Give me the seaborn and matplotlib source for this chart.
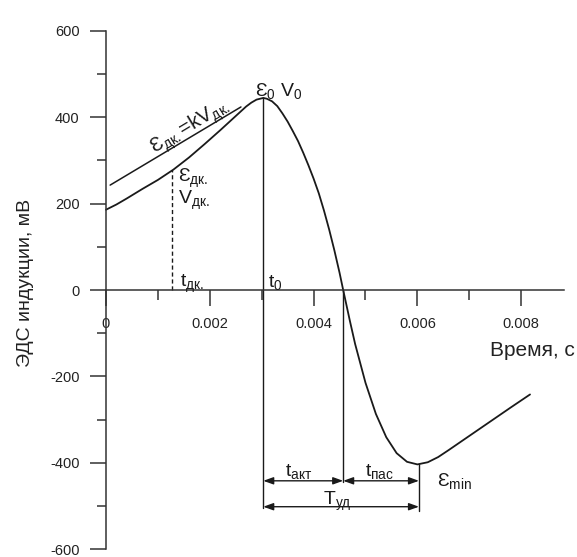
import matplotlib
matplotlib.use("Agg")
import matplotlib.pyplot as plt
import numpy as np
import pandas as pd
import seaborn as sns

# Induced EMF signal over one stroke
time_s = [0.0, 0.0002, 0.0004, 0.0007, 0.0010, 0.0013, 0.0016, 0.0019, 0.0022,
          0.0025, 0.0027, 0.0028, 0.0029, 0.0030, 0.00303, 0.0031, 0.0032, 0.0033,
          0.0034, 0.0035, 0.0036, 0.0037, 0.0038, 0.0039, 0.0040, 0.0041, 0.0042,
          0.0043, 0.0044, 0.0045, 0.00457, 0.0047, 0.0048, 0.0050, 0.0052, 0.0054,
          0.0056, 0.0058, 0.0060, 0.0062, 0.0064, 0.0066, 0.0070, 0.0074, 0.0078,
          0.00817]
emf_mv = [186, 198, 212, 234, 255, 279, 307, 338, 370,
          403, 425, 434, 441, 444, 445, 443, 437, 426,
          409, 390, 368, 345, 318, 289, 258, 224, 184,
          140, 92, 40, 0, -72, -125, -215, -287, -341,
          -378, -398, -404, -399, -387, -371, -338, -305, -272,
          -242]

# Straight line E = kV drawn over the rising part
tangent_t = [0.00008, 0.0026]
tangent_v = [243, 424]

# Characteristic points
t_dk, e_dk = 0.00128, 277
t_0, e_0 = 0.00303, 445
t_zero = 0.00457
t_min, e_min = 0.00603, -404

x_ticks = [0, 0.002, 0.004, 0.006, 0.008]
x_tick_labels = ["0", "0.002", "0.004", "0.006", "0.008"]
y_ticks = [-600, -400, -200, 0, 200, 400, 600]
y_tick_labels = ["-600", "-400", "-200", "0", "200", "400", "600"]

sns.set_theme(style="ticks")
plt.rcParams["font.family"] = ["Liberation Sans", "DejaVu Sans"]
plt.rcParams["mathtext.fontset"] = "custom"
plt.rcParams["mathtext.rm"] = "Liberation Sans"
plt.rcParams["mathtext.it"] = "Liberation Sans:italic"

fig = plt.figure(figsize=(5.77, 5.57), dpi=100)
fig.patch.set_facecolor("white")
ax = fig.add_axes([0, 0, 1, 1])
ax.set_facecolor("white")

df = pd.DataFrame({"t": time_s, "emf": emf_mv})
sns.lineplot(data=df, x="t", y="emf", ax=ax, color="#1a1a1a", lw=1.3, sort=False)
ax.plot(tangent_t, tangent_v, color="#1a1a1a", lw=1.1)

ax.set_xlim(-106 / 51900, 471 / 51900)
ax.set_ylim(-267 / 0.4317, 290 / 0.4317)

# axes crossing at the origin
for side in ("top", "right"):
    ax.spines[side].set_visible(False)
ax.spines["left"].set_position(("data", 0))
ax.spines["bottom"].set_position(("data", 0))
ax.spines["left"].set_bounds(-600, 600)
ax.spines["bottom"].set_bounds(0, 0.00883)
for side in ("left", "bottom"):
    ax.spines[side].set_linewidth(1.1)
    ax.spines[side].set_color("#333333")

ax.set_xticks(x_ticks)
ax.set_xticklabels(x_tick_labels)
ax.set_xticks([0.001, 0.003, 0.005, 0.007], minor=True)
ax.set_yticks(y_ticks)
ax.set_yticklabels(y_tick_labels)
ax.set_yticks([-500, -300, -100, 100, 300, 500], minor=True)
ax.tick_params(axis="x", which="major", direction="out", length=11.5, width=1.1,
               pad=8, labelsize=10.5, colors="#333333", labelcolor="#222222")
ax.tick_params(axis="x", which="minor", direction="out", length=7, width=1.1,
               colors="#333333")
ax.tick_params(axis="y", which="major", direction="out", length=11.5, width=1.1,
               pad=7.5, labelsize=10.5, colors="#333333", labelcolor="#222222")
ax.tick_params(axis="y", which="minor", direction="out", length=6.5, width=1.1,
               colors="#333333")
ax.set_xlabel("")
ax.set_ylabel("")
for lbl in ax.get_yticklabels():
    lbl.set_verticalalignment("center_baseline")

fig.text(26 / 577, 1 - 283 / 557, "ЭДС индукции, мВ", rotation=90,
         ha="center", va="center", fontsize=14, color="#222222")
fig.text(575 / 577, 1 - 350 / 557, "Время, с", ha="right", va="center",
         fontsize=15, color="#222222")

# marker lines
line_kw = dict(color="#1a1a1a", lw=1.0)
ax.plot([t_dk, t_dk], [0, e_dk], ls=(0, (3, 2)), **line_kw)
ax.plot([t_0, t_0], [e_0, -506], **line_kw)
ax.plot([t_zero, t_zero], [0, -444], **line_kw)
ax.plot([t_min, t_min], [e_min, -511], **line_kw)

arrow_kw = dict(arrowstyle="<|-|>,head_length=0.5,head_width=0.18", color="#1a1a1a",
                lw=1.0, mutation_scale=12, shrinkA=0, shrinkB=0)
ax.annotate("", xy=(t_0, -442), xytext=(t_zero, -442), arrowprops=arrow_kw)
ax.annotate("", xy=(t_zero, -442), xytext=(t_min, -442), arrowprops=arrow_kw)
ax.annotate("", xy=(t_0, -502), xytext=(t_min, -502), arrowprops=arrow_kw)

sub = lambda s: r"$_{\mathrm{" + s + "}}$"
txt_kw = dict(color="#1a1a1a", fontsize=14)
ax.text(0.00287, 449, "Ɛ" + sub("0") + " V" + sub("0"), ha="left", va="baseline", **txt_kw)
ax.text(0.00163, 377, "Ɛ" + sub("дк.") + "=kV" + sub("дк."), rotation=31,
        rotation_mode="anchor", ha="center", va="center", fontsize=14.5, color="#1a1a1a")
ax.text(0.00139, 250, "Ɛ" + sub("дк."), ha="left", va="baseline", **txt_kw)
ax.text(0.00139, 199, "V" + sub("дк."), ha="left", va="baseline", **txt_kw)
ax.text(0.00143, 7, "t" + sub("дк."), ha="left", va="baseline", **txt_kw)
ax.text(0.00312, 7, "t" + sub("0"), ha="left", va="baseline", **txt_kw)
ax.text(0.00345, -430, "t" + sub("акт"), ha="left", va="baseline", **txt_kw)
ax.text(0.00499, -430, "t" + sub("пас"), ha="left", va="baseline", **txt_kw)
ax.text(0.00418, -499, "T" + sub("уд"), ha="left", va="baseline", **txt_kw)
ax.text(0.00638, -453, "Ɛ" + sub("min"), ha="left", va="baseline", **txt_kw)

fig.savefig("out.png", dpi=100, facecolor="white")
